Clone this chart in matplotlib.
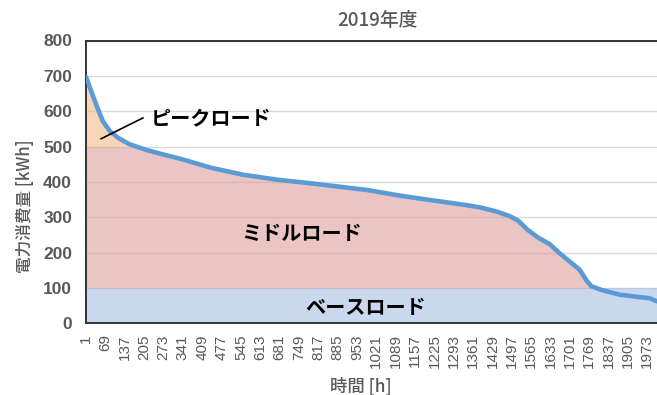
import matplotlib
matplotlib.use("Agg")
import matplotlib.pyplot as plt
import numpy as np

# Load duration curve readings (hour rank, kWh)
hours = [1, 20, 40, 60, 85, 115, 155, 215, 275, 330, 440, 555, 675, 790,
         990, 1105, 1225, 1340, 1385, 1444, 1490, 1520, 1550, 1590, 1630,
         1665, 1700, 1735, 1758, 1776, 1817, 1876, 1946, 1981, 2007]
load_kwh = [697, 655, 612, 572, 543, 524, 506, 490, 477, 466, 440, 420, 406, 396,
            377, 361, 347, 334, 328, 316, 303, 290, 266, 242, 224,
            198, 175, 152, 123, 105, 93, 81, 74, 71, 62]

tick_hours = [1, 69, 137, 205, 273, 341, 409, 477, 545, 613, 681, 749, 817,
              885, 953, 1021, 1089, 1157, 1225, 1293, 1361, 1429, 1497, 1565,
              1633, 1701, 1769, 1837, 1905, 1973]
y_ticks = [0, 100, 200, 300, 400, 500, 600, 700, 800]

base_limit = 100
peak_limit = 500

JP = ["Noto Sans CJK JP", "DejaVu Sans"]
GRAY = "#595959"

h = np.array(hours, dtype=float)
v = np.array(load_kwh, dtype=float)

fig = plt.figure(figsize=(6.57, 3.95), dpi=100)
ax = fig.add_axes([86 / 657, 71.7 / 395, 1 - 86 / 657, (323.3 - 40.5) / 395])

# grid behind the translucent areas
ax.set_axisbelow(True)
ax.grid(axis="y", color="#d9d9d9", linewidth=1.0, zorder=0)

# base load band, middle load, peak load
ax.axhspan(0, base_limit, color="#a8bee3", alpha=0.6, lw=0, zorder=1)
ax.fill_between(h, base_limit, np.minimum(v, peak_limit), where=v >= base_limit,
                interpolate=True, color="#de9e9e", alpha=0.6, lw=0, zorder=1)
ax.fill_between(h, peak_limit, v, where=v >= peak_limit, interpolate=True,
                color="#f3b984", alpha=0.6, lw=0, zorder=1)

ax.plot(h, v, color="#5b9bd5", lw=3.3, solid_joinstyle="round",
        solid_capstyle="round", zorder=3)

ax.set_xlim(1, 2007)
ax.set_ylim(0, 800)
ax.set_yticks(y_ticks)
ax.set_yticklabels([str(t) for t in y_ticks], fontfamily="Liberation Sans",
                   fontweight="bold", fontsize=12.5, color=GRAY)
ax.set_xticks(tick_hours)
ax.set_xticklabels([str(t) for t in tick_hours], rotation=90,
                   fontfamily="Liberation Sans", fontsize=11, color=GRAY)
ax.tick_params(axis="y", length=0, pad=10)
ax.tick_params(axis="x", length=0, pad=8)

for side in ("left", "top", "bottom"):
    ax.spines[side].set_color("#333333")
    ax.spines[side].set_linewidth(1.4)
ax.spines["right"].set_visible(False)

# region labels
ax.plot([54, 201], [522, 581], color="black", lw=1.2, zorder=4)
ax.text(440, 581, "ピークロード", family=JP, fontweight="bold", fontsize=14.5,
        ha="center", va="center", zorder=5)
ax.text(760, 255, "ミドルロード", family=JP, fontweight="bold", fontsize=14.5,
        ha="center", va="center", zorder=5)
ax.text(984, 46, "ベースロード", family=JP, fontweight="bold", fontsize=14.5,
        ha="center", va="center", zorder=5)

fig.text(377 / 657, 1 - 20 / 395, "2019年度", family=JP, fontsize=13.5,
         color=GRAY, fontweight="medium", ha="center", va="center")
fig.text(25 / 657, 1 - 206 / 395, "電力消費量 [kWh]", family=JP, fontsize=12,
         color=GRAY, fontweight="medium", rotation=90, ha="center", va="center")
fig.text(361 / 657, 1 - 386 / 395, "時間 [h]", family=JP, fontsize=12.5,
         color=GRAY, fontweight="medium", ha="center", va="center")

fig.savefig("out.png", dpi=100)
